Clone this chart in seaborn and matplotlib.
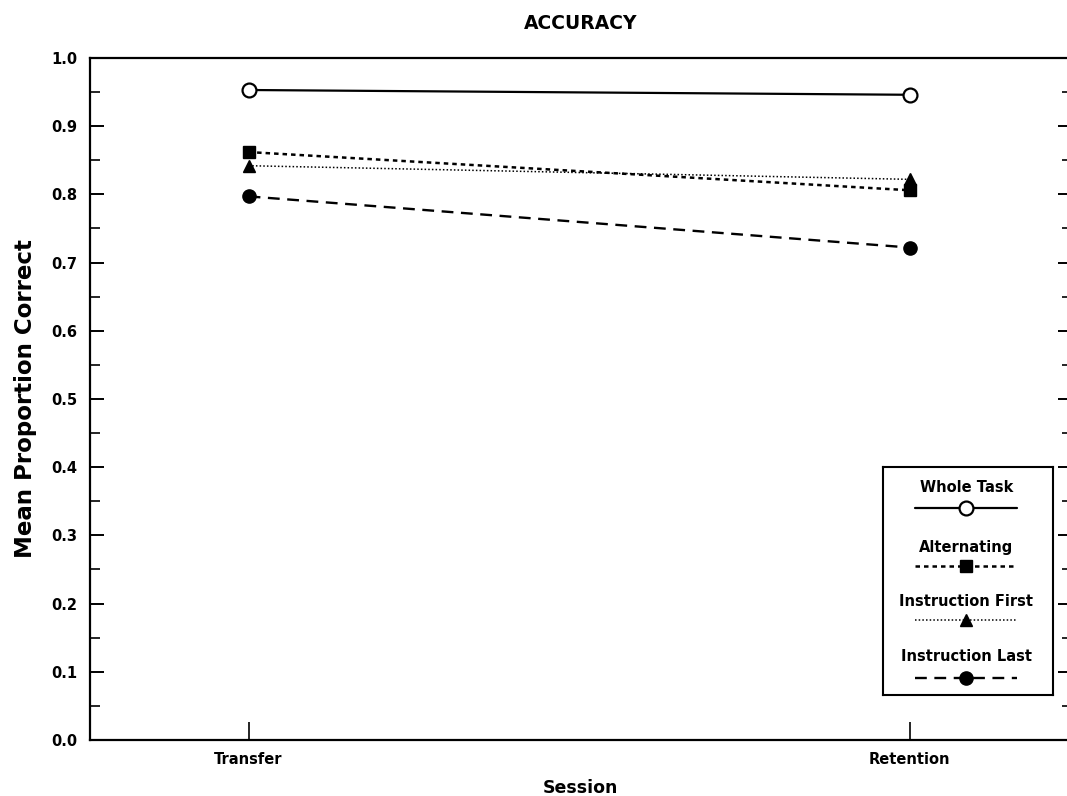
import matplotlib
matplotlib.use("Agg")
import matplotlib.pyplot as plt
from matplotlib.ticker import MultipleLocator
import seaborn as sns
import pandas as pd

sessions = ["Transfer", "Retention"]
groups = ["Whole Task", "Alternating", "Instruction First", "Instruction Last"]
whole_task = [0.953, 0.946]
alternating = [0.862, 0.806]
instruction_first = [0.842, 0.822]
instruction_last = [0.797, 0.722]
y_ticks = [0.0, 0.1, 0.2, 0.3, 0.4, 0.5, 0.6, 0.7, 0.8, 0.9, 1.0]

sns.set_style("ticks")
plt.rcParams["font.family"] = ["DejaVu Sans"]
plt.rcParams["font.weight"] = "bold"
plt.rcParams["text.color"] = "black"
plt.rcParams["axes.labelcolor"] = "black"
plt.rcParams["xtick.color"] = "black"
plt.rcParams["ytick.color"] = "black"

values = {
    "Whole Task": whole_task,
    "Alternating": alternating,
    "Instruction First": instruction_first,
    "Instruction Last": instruction_last,
}
rows = []
for g in groups:
    for i, s in enumerate(sessions):
        rows.append({"group": g, "pos": i, "session": s, "value": values[g][i]})
df = pd.DataFrame(rows)

styles = {
    "Whole Task": dict(linestyle="-", lw=1.6, marker="o", markersize=10,
                       markerfacecolor="white", markeredgewidth=1.6),
    "Alternating": dict(linestyle=(0, (1.8, 1.6)), lw=1.8, marker="s", markersize=8,
                        markerfacecolor="black", markeredgewidth=1),
    "Instruction First": dict(linestyle=(0, (1, 1.4)), lw=1.1, marker="^", markersize=9,
                              markerfacecolor="black", markeredgewidth=1),
    "Instruction Last": dict(linestyle=(0, (5, 3.2)), lw=1.7, marker="o", markersize=9.5,
                             markerfacecolor="black", markeredgewidth=1),
}

fig = plt.figure(figsize=(10.67, 7.96), dpi=100)
ax = fig.add_axes([0.0843, 0.0704, 0.92, 0.8568])

for g in groups:
    sub = df[df["group"] == g]
    sns.lineplot(data=sub, x="pos", y="value", ax=ax, color="black",
                 markeredgecolor="black", sort=False, legend=False, **styles[g])

ax.set_xlim(-0.24, 1.245)
ax.set_ylim(0.0, 1.0)
ax.set_xticks(range(len(sessions)))
ax.set_xticklabels(sessions)
ax.set_yticks(y_ticks)
ax.set_yticklabels([f"{t:.1f}" for t in y_ticks])
ax.yaxis.set_minor_locator(MultipleLocator(0.05))

for sp in ax.spines.values():
    sp.set_linewidth(1.6)
    sp.set_color("black")
ax.spines["right"].set_visible(False)

ax.tick_params(axis="y", which="major", direction="in", length=10, width=1.4,
               left=True, right=True, pad=9, labelsize=10.5)
ax.tick_params(axis="y", which="minor", direction="in", length=7, width=1.2,
               left=True, right=True)
ax.tick_params(axis="x", which="major", direction="in", length=13, width=1.2,
               pad=9, labelsize=10.5)

ax.set_xlabel("Session", fontsize=12.5, fontweight="bold", labelpad=8)
ax.set_ylabel("Mean Proportion Correct", fontsize=16.5, fontweight="bold", labelpad=10)
ax.set_title("ACCURACY", fontsize=13.5, fontweight="bold", pad=21)

# legend box with label above each sample line
lax = fig.add_axes([0.8276, 0.1269, 0.1593, 0.2864])
lax.set_xlim(0, 1)
lax.set_ylim(0, 1)
lax.set_xticks([])
lax.set_yticks([])
for sp in lax.spines.values():
    sp.set_linewidth(1.5)
    sp.set_color("black")
lax.set_facecolor("white")

label_y = [0.912, 0.645, 0.408, 0.167]
line_y = [0.820, 0.566, 0.329, 0.075]
for g, ty, ly in zip(groups, label_y, line_y):
    lax.text(0.49, ty, g, ha="center", va="center", fontsize=10.5, fontweight="bold")
    st = dict(styles[g])
    mk = st.pop("marker")
    ms = st.pop("markersize")
    mfc = st.pop("markerfacecolor")
    mew = st.pop("markeredgewidth")
    lax.plot([0.19, 0.79], [ly, ly], color="black", **st)
    lax.plot([0.49], [ly], marker=mk, markersize=ms, markerfacecolor=mfc,
             markeredgecolor="black", markeredgewidth=mew, linestyle="none")

fig.savefig("out.png", dpi=100)
